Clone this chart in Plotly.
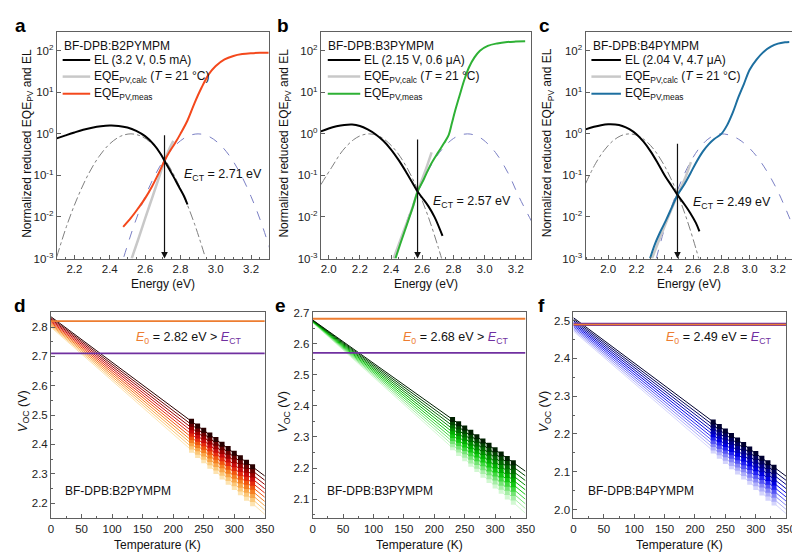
import plotly.graph_objects as go

# ================= DATA =================
# ---- top row: normalized reduced EQE_PV and EL spectra ----
samples = ["BF-DPB:B2PYMPM", "BF-DPB:B3PYMPM", "BF-DPB:B4PYMPM"]
el_labels = ["EL (3.2 V, 0.5 mA)", "EL (2.15 V, 0.6 μA)", "EL (2.04 V, 4.7 μA)"]
e_ct = [2.71, 2.57, 2.49]
e_0 = [2.82, 2.68, 2.49]

# (a)
a_el_e = [2.10, 2.15, 2.20, 2.25, 2.30, 2.35, 2.40, 2.45, 2.50, 2.55, 2.60, 2.65, 2.69, 2.71, 2.73, 2.76, 2.79, 2.82, 2.84]
a_el = [0.78, 0.92, 1.08, 1.25, 1.40, 1.52, 1.58, 1.55, 1.42, 1.18, 0.88, 0.55, 0.32, 0.225, 0.16, 0.095, 0.055, 0.032, 0.02]
a_calc_e = [2.524, 2.56, 2.60, 2.64, 2.68, 2.71, 2.74, 2.76]
a_calc = [0.001, 0.0028, 0.0091, 0.029, 0.092, 0.225, 0.46, 0.68]
a_meas_e = [2.476, 2.52, 2.56, 2.60, 2.64, 2.68, 2.71, 2.74, 2.77, 2.80, 2.84, 2.88, 2.92, 2.96, 3.00, 3.05, 3.10, 3.15, 3.20, 3.25, 3.30]
a_meas = [0.0058, 0.0095, 0.016, 0.028, 0.055, 0.12, 0.225, 0.38, 0.6, 1.0, 2.1, 5.5, 13, 27, 43, 62, 75, 83, 87, 89, 90]
a_gel_e = [2.10, 2.16, 2.22, 2.28, 2.34, 2.40, 2.46, 2.52, 2.58, 2.64, 2.70, 2.76, 2.82, 2.88, 2.94]
a_gel = [0.0011, 0.0068, 0.031, 0.109, 0.288, 0.575, 0.871, 1.0, 0.871, 0.575, 0.288, 0.109, 0.031, 0.0068, 0.0011]
a_geqe_e = [2.48, 2.54, 2.60, 2.66, 2.72, 2.78, 2.84, 2.90, 2.96, 3.02, 3.08, 3.14, 3.20, 3.26, 3.32]
a_geqe = [0.0011, 0.0068, 0.031, 0.109, 0.288, 0.575, 0.871, 1.0, 0.871, 0.575, 0.288, 0.109, 0.031, 0.0068, 0.0011]

# (b)
b_el_e = [1.95, 2.00, 2.05, 2.10, 2.15, 2.20, 2.25, 2.30, 2.35, 2.40, 2.45, 2.50, 2.55, 2.57, 2.60, 2.64, 2.68, 2.73]
b_el = [1.15, 1.35, 1.52, 1.64, 1.68, 1.55, 1.28, 0.98, 0.68, 0.42, 0.23, 0.115, 0.055, 0.041, 0.029, 0.018, 0.0098, 0.0035]
b_calc_e = [2.416, 2.48, 2.54, 2.57, 2.62, 2.66]
b_calc = [0.001, 0.0045, 0.018, 0.041, 0.13, 0.36]
b_meas_e = [2.428, 2.46, 2.50, 2.54, 2.57, 2.61, 2.65, 2.70, 2.74, 2.77, 2.79, 2.81, 2.84, 2.87, 2.90, 2.935, 2.97, 3.02, 3.08, 3.145, 3.20, 3.26]
b_meas = [0.001, 0.0023, 0.0063, 0.0175, 0.041, 0.081, 0.17, 0.35, 0.6, 0.95, 1.8, 3.5, 8.5, 20, 40, 69, 100, 131, 150, 162, 166, 168]
b_gel_e = [1.95, 2.02, 2.09, 2.16, 2.21, 2.26, 2.31, 2.36, 2.43, 2.50, 2.57, 2.64, 2.70, 2.74]
b_gel = [0.06, 0.158, 0.397, 0.726, 0.923, 1.0, 0.923, 0.726, 0.397, 0.158, 0.046, 0.0098, 0.002, 0.00063]
b_geqe_e = [2.43, 2.49, 2.56, 2.63, 2.71, 2.79, 2.84, 2.89, 2.94, 2.99, 3.07, 3.15, 3.22, 3.30]
b_geqe = [0.00115, 0.006, 0.0307, 0.115, 0.355, 0.726, 0.923, 1.0, 0.923, 0.726, 0.355, 0.115, 0.0307, 0.008]

# (c)
c_el_e = [1.84, 1.90, 1.95, 2.00, 2.05, 2.10, 2.15, 2.20, 2.25, 2.30, 2.35, 2.40, 2.45, 2.49, 2.54, 2.58, 2.62, 2.645]
c_el = [1.28, 1.48, 1.62, 1.70, 1.68, 1.55, 1.30, 0.98, 0.65, 0.38, 0.20, 0.10, 0.055, 0.034, 0.02, 0.0125, 0.0072, 0.0045]
c_calc_e = [2.31, 2.36, 2.41, 2.45, 2.49, 2.54, 2.585]
c_calc = [0.001, 0.0028, 0.0075, 0.016, 0.034, 0.08, 0.21]
c_meas_e = [2.296, 2.33, 2.37, 2.41, 2.45, 2.49, 2.54, 2.58, 2.62, 2.67, 2.71, 2.75, 2.80, 2.84, 2.88, 2.92, 2.96, 3.00, 3.05, 3.10, 3.15, 3.20, 3.25, 3.28]
c_meas = [0.001, 0.0022, 0.0045, 0.0085, 0.017, 0.034, 0.062, 0.11, 0.2, 0.38, 0.56, 0.75, 1.0, 1.6, 3.2, 7.5, 16, 35, 62, 95, 125, 148, 160, 163]
c_gel_e = [1.84, 1.91, 1.97, 2.03, 2.09, 2.15, 2.21, 2.27, 2.33, 2.39, 2.45, 2.50, 2.56, 2.62, 2.66]
c_gel = [0.063, 0.191, 0.394, 0.661, 0.902, 1.0, 0.902, 0.661, 0.394, 0.191, 0.0753, 0.0296, 0.008, 0.00175, 0.00057]
c_geqe_e = [2.34, 2.40, 2.46, 2.52, 2.58, 2.64, 2.70, 2.75, 2.80, 2.86, 2.92, 2.98, 3.05, 3.12, 3.20, 3.30]
c_geqe = [0.001, 0.0055, 0.023, 0.078, 0.207, 0.434, 0.722, 0.922, 1.0, 0.93, 0.75, 0.523, 0.287, 0.129, 0.041, 0.0067]

# ---- bottom row: Voc vs temperature ----
temps = [230, 240, 250, 260, 270, 280, 290, 300, 310, 320, 330]
t_fit = [0, 350]

d_v0 = [2.835, 2.831, 2.827, 2.823, 2.819, 2.815, 2.811, 2.807, 2.803, 2.799]
d_v350 = [2.2925, 2.278, 2.2635, 2.249, 2.2345, 2.220, 2.2055, 2.191, 2.1765, 2.162]
d_voc = [
    [2.479, 2.463, 2.448, 2.432, 2.417, 2.401, 2.386, 2.370, 2.355, 2.339, 2.324],
    [2.468, 2.452, 2.436, 2.420, 2.404, 2.389, 2.373, 2.357, 2.341, 2.325, 2.310],
    [2.457, 2.441, 2.425, 2.408, 2.392, 2.376, 2.360, 2.344, 2.328, 2.312, 2.296],
    [2.446, 2.429, 2.413, 2.397, 2.380, 2.364, 2.347, 2.331, 2.315, 2.298, 2.282],
    [2.435, 2.418, 2.402, 2.385, 2.368, 2.351, 2.335, 2.318, 2.301, 2.285, 2.268],
    [2.424, 2.407, 2.390, 2.373, 2.356, 2.339, 2.322, 2.305, 2.288, 2.271, 2.254],
    [2.413, 2.396, 2.379, 2.361, 2.344, 2.327, 2.309, 2.292, 2.275, 2.257, 2.240],
    [2.402, 2.385, 2.367, 2.349, 2.332, 2.314, 2.297, 2.279, 2.261, 2.244, 2.226],
    [2.391, 2.373, 2.356, 2.338, 2.320, 2.302, 2.284, 2.266, 2.248, 2.230, 2.212],
    [2.380, 2.362, 2.344, 2.326, 2.308, 2.289, 2.271, 2.253, 2.235, 2.217, 2.198],
]

e_v0 = [2.676, 2.675, 2.674, 2.673, 2.672, 2.671, 2.670, 2.669, 2.668, 2.667]
e_v350 = [2.1895, 2.1745, 2.1595, 2.1445, 2.1295, 2.1145, 2.0995, 2.0845, 2.0695, 2.0545]
e_voc = [
    [2.356, 2.342, 2.329, 2.315, 2.301, 2.287, 2.273, 2.259, 2.245, 2.231, 2.217],
    [2.346, 2.332, 2.318, 2.303, 2.289, 2.275, 2.260, 2.246, 2.232, 2.217, 2.203],
    [2.336, 2.321, 2.307, 2.292, 2.277, 2.262, 2.248, 2.233, 2.218, 2.204, 2.189],
    [2.326, 2.311, 2.296, 2.280, 2.265, 2.250, 2.235, 2.220, 2.205, 2.190, 2.175],
    [2.316, 2.300, 2.285, 2.269, 2.254, 2.238, 2.223, 2.207, 2.192, 2.176, 2.161],
    [2.305, 2.289, 2.274, 2.258, 2.242, 2.226, 2.210, 2.194, 2.178, 2.162, 2.146],
    [2.295, 2.279, 2.263, 2.246, 2.230, 2.214, 2.197, 2.181, 2.165, 2.148, 2.132],
    [2.285, 2.268, 2.252, 2.235, 2.218, 2.201, 2.185, 2.168, 2.151, 2.135, 2.118],
    [2.275, 2.258, 2.241, 2.223, 2.206, 2.189, 2.172, 2.155, 2.138, 2.121, 2.104],
    [2.265, 2.247, 2.230, 2.212, 2.195, 2.177, 2.160, 2.142, 2.125, 2.107, 2.090],
]

f_v0 = [2.508, 2.504, 2.500, 2.496, 2.492, 2.488, 2.484, 2.480, 2.476, 2.472]
f_v350 = [2.088, 2.077, 2.066, 2.055, 2.044, 2.033, 2.022, 2.011, 2.000, 1.989]
f_voc = [
    [2.232, 2.220, 2.208, 2.196, 2.184, 2.172, 2.160, 2.148, 2.136, 2.124, 2.112],
    [2.223, 2.211, 2.199, 2.187, 2.175, 2.162, 2.150, 2.138, 2.126, 2.114, 2.101],
    [2.215, 2.202, 2.190, 2.178, 2.165, 2.153, 2.140, 2.128, 2.116, 2.103, 2.091],
    [2.206, 2.194, 2.181, 2.168, 2.156, 2.143, 2.131, 2.118, 2.105, 2.093, 2.080],
    [2.198, 2.185, 2.172, 2.159, 2.146, 2.134, 2.121, 2.108, 2.095, 2.082, 2.070],
    [2.189, 2.176, 2.163, 2.150, 2.137, 2.124, 2.111, 2.098, 2.085, 2.072, 2.059],
    [2.180, 2.167, 2.154, 2.141, 2.128, 2.114, 2.101, 2.088, 2.075, 2.062, 2.048],
    [2.172, 2.158, 2.145, 2.132, 2.118, 2.105, 2.091, 2.078, 2.065, 2.051, 2.038],
    [2.163, 2.150, 2.136, 2.122, 2.109, 2.095, 2.082, 2.068, 2.054, 2.041, 2.027],
    [2.155, 2.141, 2.127, 2.113, 2.099, 2.086, 2.072, 2.058, 2.044, 2.030, 2.017],
]

# ================= STYLE / LAYOUT =================
FONT = "Liberation Sans"
ORANGE = "#ED7D31"
PURPLE = "#7030A0"
AXC = "#606060"
TXT = "#111111"
W, H = 800, 552

top = [
    dict(el_e=a_el_e, el=a_el, calc_e=a_calc_e, calc=a_calc, meas_e=a_meas_e, meas=a_meas,
         gel_e=a_gel_e, gel=a_gel, geqe_e=a_geqe_e, geqe=a_geqe),
    dict(el_e=b_el_e, el=b_el, calc_e=b_calc_e, calc=b_calc, meas_e=b_meas_e, meas=b_meas,
         gel_e=b_gel_e, gel=b_gel, geqe_e=b_geqe_e, geqe=b_geqe),
    dict(el_e=c_el_e, el=c_el, calc_e=c_calc_e, calc=c_calc, meas_e=c_meas_e, meas=c_meas,
         gel_e=c_gel_e, gel=c_gel, geqe_e=c_geqe_e, geqe=c_geqe),
]
meas_colors = ["#F4481C", "#2EB135", "#1D6FA0"]
top_left_px = [46.5, 315, 584]
top_right_px = [262, 529, 794]
top_xdom = [[l / W, r / W] for l, r in zip(top_left_px, top_right_px)]
top_xrange = [[2.1, 3.3], [1.95, 3.3], [1.84, 3.3]]
top_ydom = [1 - 250 / H, 1 - 18 / H]

bottom = [(d_v0, d_v350, d_voc), (e_v0, e_v350, e_voc), (f_v0, f_v350, f_voc)]
bot_left_px = [40.7, 306.7, 571.7]
bot_right_px = [258, 523, 788]
bot_xdom = [[l / W, r / W] for l, r in zip(bot_left_px, bot_right_px)]
bot_ydom = [1 - 515 / H, 1 - 305 / H]
bot_yrange = [[2.15, 2.85], [2.04, 2.7005], [1.978, 2.522]]
shade_sets = [
    ["#2a0000", "#6a0000", "#9c0000", "#c80c0c", "#e42a0e", "#f05510", "#f57e22", "#f9a548", "#fbc778", "#fde3b0"],
    ["#002000", "#004600", "#006a00", "#008c00", "#00ae00", "#12c812", "#40d840", "#74e474", "#a6eea6", "#d2f8d2"],
    ["#000030", "#00005c", "#00008a", "#0000b6", "#0000e0", "#2424f2", "#5454f4", "#8484f6", "#aeaef9", "#d4d4fc"],
]

fig = go.Figure()


def ax_name(i):
    return "" if i == 0 else str(i + 1)


# ---- top panels ----
for p, dat in enumerate(top):
    xa = "x" + ax_name(p)
    ya = "y" + ax_name(p)
    fig.add_trace(go.Scatter(x=dat["gel_e"], y=dat["gel"], xaxis=xa, yaxis=ya, mode="lines",
                             line=dict(color="#7f7f7f", width=1, dash="dashdot", shape="spline"),
                             showlegend=False, hoverinfo="skip"))
    fig.add_trace(go.Scatter(x=dat["geqe_e"], y=dat["geqe"], xaxis=xa, yaxis=ya, mode="lines",
                             line=dict(color="#7a7fc4", width=1, dash="dash", shape="spline"),
                             showlegend=False, hoverinfo="skip"))
    fig.add_trace(go.Scatter(x=dat["calc_e"], y=dat["calc"], xaxis=xa, yaxis=ya, mode="lines",
                             line=dict(color="#c8c8c8", width=2.5, shape="spline"),
                             showlegend=False, hoverinfo="skip"))
    fig.add_trace(go.Scatter(x=dat["meas_e"], y=dat["meas"], xaxis=xa, yaxis=ya, mode="lines",
                             line=dict(color=meas_colors[p], width=2, shape="spline"),
                             showlegend=False, hoverinfo="skip"))
    fig.add_trace(go.Scatter(x=dat["el_e"], y=dat["el"], xaxis=xa, yaxis=ya, mode="lines",
                             line=dict(color="#000000", width=2, shape="spline"),
                             showlegend=False, hoverinfo="skip"))

# ---- bottom panels ----
for p, (v0, v350, voc) in enumerate(bottom):
    xa = "x" + str(p + 4)
    ya = "y" + str(p + 4)
    shades = shade_sets[p]
    n = len(v0)
    for i in reversed(range(n)):
        fig.add_trace(go.Scatter(x=t_fit, y=[v0[i], v350[i]], xaxis=xa, yaxis=ya, mode="lines",
                                 line=dict(color=shades[i], width=1), showlegend=False, hoverinfo="skip"))
    for i in reversed(range(n)):
        fig.add_trace(go.Scatter(x=temps, y=voc[i], xaxis=xa, yaxis=ya, mode="markers",
                                 marker=dict(symbol="square", size=5, color=shades[i], line=dict(width=0)),
                                 showlegend=False, hoverinfo="skip"))
    if p == 2:
        fig.add_trace(go.Scatter(x=t_fit, y=[e_ct[p], e_ct[p]], xaxis=xa, yaxis=ya, mode="lines",
                                 line=dict(color=PURPLE, width=3.2), showlegend=False, hoverinfo="skip"))
        fig.add_trace(go.Scatter(x=t_fit, y=[e_0[p], e_0[p]], xaxis=xa, yaxis=ya, mode="lines",
                                 line=dict(color=ORANGE, width=1.6), showlegend=False, hoverinfo="skip"))
    else:
        fig.add_trace(go.Scatter(x=t_fit, y=[e_0[p], e_0[p]], xaxis=xa, yaxis=ya, mode="lines",
                                 line=dict(color=ORANGE, width=1.8), showlegend=False, hoverinfo="skip"))
        fig.add_trace(go.Scatter(x=t_fit, y=[e_ct[p], e_ct[p]], xaxis=xa, yaxis=ya, mode="lines",
                                 line=dict(color=PURPLE, width=1.8), showlegend=False, hoverinfo="skip"))

# ---- axes ----
tickfont = dict(family=FONT, size=11.5, color="#222222")
common = dict(showline=True, linecolor=AXC, linewidth=1, mirror=True, showgrid=False,
              zeroline=False, ticks="inside", tickcolor=AXC, tickfont=tickfont)
lay = {}
for p in range(3):
    s = ax_name(p)
    lay["xaxis" + s] = dict(domain=top_xdom[p], anchor="y" + s, range=top_xrange[p],
                            tick0=2.0, dtick=0.2, tickformat=".1f", ticklen=4,
                            minor=dict(ticks="inside", dtick=0.05, ticklen=2, tickcolor=AXC), **common)
    lay["yaxis" + s] = dict(domain=top_ydom, anchor="x" + s, type="log", range=[-3, 2.46],
                            tickvals=[0.001, 0.01, 0.1, 1, 10, 100],
                            ticktext=["10<sup>-3</sup>", "10<sup>-2</sup>", "10<sup>-1</sup>",
                                      "10<sup>0</sup>", "10<sup>1</sup>", "10<sup>2</sup>"],
                            ticklen=4, **common)
for p in range(3):
    s = str(p + 4)
    lay["xaxis" + s] = dict(domain=bot_xdom[p], anchor="y" + s, range=[0, 350], dtick=50, ticklen=4,
                            minor=dict(ticks="inside", dtick=25, ticklen=2, tickcolor=AXC), **common)
    lay["yaxis" + s] = dict(domain=bot_ydom, anchor="x" + s, range=bot_yrange[p], dtick=0.1,
                            tickformat=".1f", ticklen=4,
                            minor=dict(ticks="inside", dtick=0.05, ticklen=2, tickcolor=AXC), **common)

# ---- annotations & legend samples ----
ann = []
shapes = []


def px_x(v):
    return v / W


def px_y(v):
    return 1 - v / H


letters = ["a", "b", "c", "d", "e", "f"]
letter_pos = [(10, 12), (276, 12), (542, 12), (9, 298), (274, 298), (539, 298)]
for L, (px, py) in zip(letters, letter_pos):
    ann.append(dict(text="<b>%s</b>" % L, x=px_x(px), y=px_y(py), xref="paper", yref="paper",
                    showarrow=False, font=dict(family=FONT, size=19, color="#000"),
                    xanchor="center", yanchor="middle"))

# legends (drawn as line samples + texts inside each top panel)
leg_geom = [(5.5, 6, 34, 36), (5.5, 7, 40, 42), (6, 6, 36, 38)]
leg_rows = [47, 64, 81.5]
leg_styles = [dict(color="#000000", width=2), dict(color="#c8c8c8", width=2.5), None]
for p in range(3):
    left = top_left_px[p]
    tx, l0, l1, t0 = leg_geom[p]
    ann.append(dict(text=samples[p], x=px_x(left + tx), y=px_y(32.5), xref="paper", yref="paper",
                    showarrow=False, font=dict(family=FONT, size=12, color=TXT),
                    xanchor="left", yanchor="middle"))
    names = [el_labels[p], "EQE<sub>PV,calc</sub> (<i>T</i> = 21 °C)", "EQE<sub>PV,meas</sub>"]
    for r, (name, yy) in enumerate(zip(names, leg_rows)):
        st = leg_styles[r] if leg_styles[r] else dict(color=meas_colors[p], width=2)
        shapes.append(dict(type="line", xref="paper", yref="paper", x0=px_x(left + l0), x1=px_x(left + l1),
                           y0=px_y(yy), y1=px_y(yy), line=st))
        ann.append(dict(text=name, x=px_x(left + t0), y=px_y(yy + 0.5), xref="paper", yref="paper",
                        showarrow=False, font=dict(family=FONT, size=12, color=TXT),
                        xanchor="left", yanchor="middle"))

ytitle_x = [17, 279, 546]
for p in range(3):
    s = ax_name(p)
    xd = top_xdom[p]
    ann.append(dict(text="Normalized reduced EQE<sub>PV</sub> and EL", x=px_x(ytitle_x[p]), y=px_y(132),
                    xref="paper", yref="paper", textangle=-90, showarrow=False,
                    font=dict(family=FONT, size=12, color=TXT), xanchor="center", yanchor="middle"))
    ann.append(dict(text="Energy (eV)", x=(xd[0] + xd[1]) / 2, y=px_y(276), xref="paper", yref="paper",
                    showarrow=False, font=dict(family=FONT, size=12, color=TXT),
                    xanchor="center", yanchor="middle"))
    ann.append(dict(x=e_ct[p], y=-3, ax=e_ct[p], ay=[0.0, -0.1, -0.2][p], xref="x" + s, yref="y" + s,
                    axref="x" + s, ayref="y" + s, showarrow=True, arrowhead=2, arrowsize=1.1,
                    arrowwidth=1.2, arrowcolor="#111", text=""))
ect_txt_pos = [(3.04, -1.0), (2.92, -1.64), (2.875, -1.66)]
for p in range(3):
    s = ax_name(p)
    ann.append(dict(text="<i>E</i><sub>CT</sub> = %.2f eV" % e_ct[p], x=ect_txt_pos[p][0], y=ect_txt_pos[p][1],
                    xref="x" + s, yref="y" + s, showarrow=False,
                    font=dict(family=FONT, size=12.5, color=TXT), xanchor="center", yanchor="middle"))

vtitle_x = [13, 278, 543]
for p in range(3):
    s = str(p + 4)
    xd = bot_xdom[p]
    ann.append(dict(text="<i>V</i><sub>OC</sub> (V)", x=px_x(vtitle_x[p]), y=px_y(406),
                    xref="paper", yref="paper", textangle=-90, showarrow=False,
                    font=dict(family=FONT, size=12.5, color=TXT), xanchor="center", yanchor="middle"))
    ann.append(dict(text="Temperature (K)", x=(xd[0] + xd[1]) / 2, y=px_y(543), xref="paper", yref="paper",
                    showarrow=False, font=dict(family=FONT, size=12, color=TXT),
                    xanchor="center", yanchor="middle"))
    ann.append(dict(text=samples[p], x=0.057, y=0.13, xref="x" + s + " domain", yref="y" + s + " domain",
                    showarrow=False, font=dict(family=FONT, size=12, color=TXT),
                    xanchor="left", yanchor="middle"))
    rel = "&gt;" if e_0[p] > e_ct[p] else "="
    txt = ("<span style='color:%s'><i>E</i><sub>0</sub></span> = %.2f eV %s "
           "<span style='color:%s'><i>E</i><sub>CT</sub></span>") % (ORANGE, e_0[p], rel, PURPLE)
    ann.append(dict(text=txt, x=[0.645, 0.67, 0.68][p], y=0.873, xref="x" + s + " domain",
                    yref="y" + s + " domain", showarrow=False,
                    font=dict(family=FONT, size=12.5, color=TXT), xanchor="center", yanchor="middle"))

fig.update_layout(width=W, height=H, margin=dict(l=0, r=0, t=0, b=0), showlegend=False,
                  paper_bgcolor="white", plot_bgcolor="white", annotations=ann, shapes=shapes,
                  font=dict(family=FONT), **lay)

fig.write_html("out.html")
